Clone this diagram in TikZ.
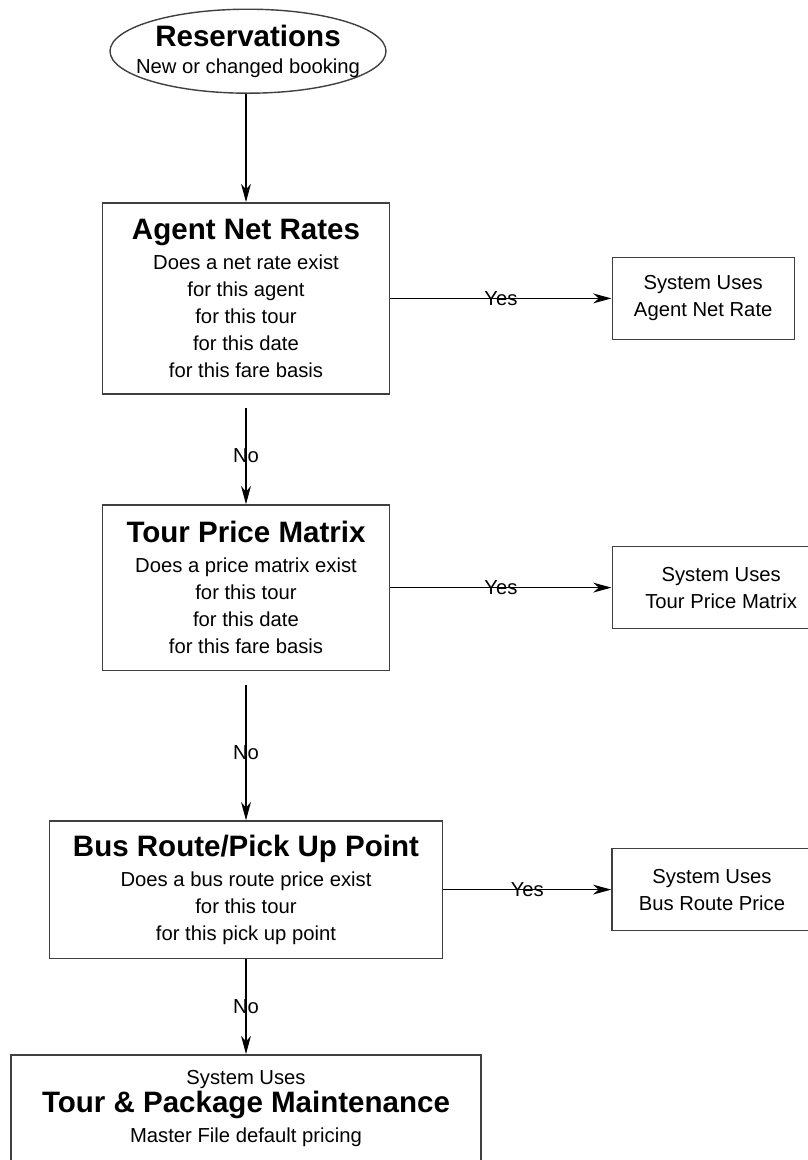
\documentclass[tikz,border=0pt]{standalone}
\usepackage{fontspec}
\setmainfont{Liberation Sans}
\usetikzlibrary{shapes}
\usetikzlibrary{arrows.meta}
\newcommand{\boxtitle}[1]{{\fontsize{21}{24}\selectfont\bfseries #1}}
\tikzstyle{terminal}=[ellipse,draw=black!75,line width=1pt,inner xsep=-0.6cm,inner ysep=0pt,
minimum width=6.9cm,minimum height=2.1cm,align=center]
\tikzstyle{lookup}=[rectangle,draw=black!75,line width=1pt,inner sep=0pt,align=center]
\tikzstyle{outcome}=[rectangle,draw=black!75,line width=1pt,inner sep=0pt,
minimum height=2.05cm,align=center]
\tikzstyle{answer}=[inner sep=0pt]
\tikzstyle{link}=[-{Stealth[length=13pt,width=7pt,inset=4pt]},line width=0.8pt]
\begin{document}
\begin{tikzpicture}[font=\fontsize{14.4}{19.2}\selectfont]
\useasboundingbox (0,0) rectangle (20.2,-29);
\node[terminal] (res) at (6.2,-1.28) {\boxtitle{Reservations}\\New or changed booking};
\node[lookup,minimum width=7.18cm,minimum height=4.78cm] (agent) at (6.15,-7.46) {\boxtitle{Agent Net Rates}\\[2pt]Does a net rate exist\\for this agent\\for this tour\\for this date\\for this fare basis};
\node[outcome,minimum width=4.55cm] (agentyes) at (17.58,-7.46) {System Uses\\Agent Net Rate};
\node[lookup,minimum width=7.18cm,minimum height=4.13cm] (tour) at (6.15,-14.69) {\boxtitle{Tour Price Matrix}\\[2pt]Does a price matrix exist\\for this tour\\for this date\\for this fare basis};
\node[outcome,minimum width=5.45cm] (touryes) at (18.03,-14.69) {System Uses\\Tour Price Matrix};
\node[lookup,minimum width=9.83cm,minimum height=3.43cm] (bus) at (6.15,-22.24) {\boxtitle{Bus Route/Pick Up Point}\\[2pt]Does a bus route price exist\\for this tour\\for this pick up point};
\node[outcome,minimum width=5cm] (busyes) at (17.8,-22.24) {System Uses\\Bus Route Price};
\node[lookup,minimum width=11.75cm,minimum height=2.68cm] (master) at (6.15,-27.71) {System Uses\\[1pt]\boxtitle{Tour \& Package Maintenance}\\[2pt]Master File default pricing};
%Drawing Edges
\draw[link] (res.south -| agent) -- (agent);
\draw[link] (agent) -- (agentyes) node[midway,answer]{Yes};
\draw[link] ([yshift=-0.33cm]agent.south) -- (tour) node[midway,answer]{No};
\draw[link] (tour) -- (touryes) node[midway,answer]{Yes};
\draw[link] ([yshift=-0.35cm]tour.south) -- (bus) node[midway,answer]{No};
\draw[link] (bus) -- (busyes) node[midway,answer]{Yes};
\draw[link] (bus) -- (master) node[midway,answer]{No};
\end{tikzpicture}
\end{document}
